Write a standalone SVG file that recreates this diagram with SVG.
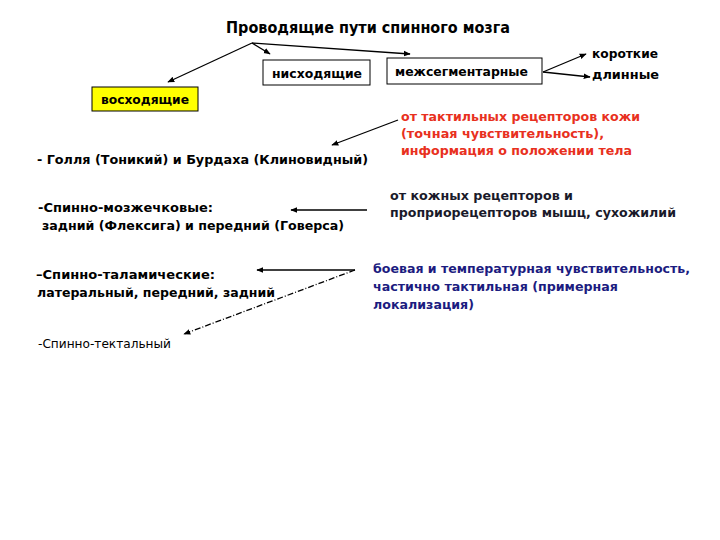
<svg xmlns="http://www.w3.org/2000/svg" width="720" height="540" viewBox="0 0 720 540">
<defs>
<marker id="ah" viewBox="0 0 10 10" refX="9" refY="5" markerWidth="7" markerHeight="7" orient="auto" markerUnits="userSpaceOnUse">
<path d="M0,1 L10,5 L0,9 Z" fill="#000"/>
</marker>
</defs>
<style>
text{font-family:"DejaVu Sans","Liberation Sans",sans-serif;font-size:13px;fill:#000}
.b{font-weight:bold}
.t{font-size:15px;font-weight:bold}
.red{fill:#e83020;font-weight:bold}
.blue{fill:#1c1c80;font-weight:bold}
.dk{fill:#1a1a2a;font-weight:bold}
.box{fill:#fff;stroke:#000;stroke-width:1}
.ybox{fill:#ffff00;stroke:#000;stroke-width:1}
.c{stroke:#000;stroke-width:1.3;fill:none;marker-end:url(#ah)}
.dd{stroke-dasharray:6,2,1,2}
</style>
<rect width="720" height="540" fill="#fff"/>
<g id="title"><text class="t" x="226" y="33" textLength="284" lengthAdjust="spacingAndGlyphs">Проводящие пути спинного мозга</text></g>
<g id="descending"><rect class="box" x="263" y="60" width="107" height="25"/><text class="b" x="272" y="78" textLength="90" lengthAdjust="spacingAndGlyphs">нисходящие</text></g>
<g id="intersegmental"><rect class="box" x="387" y="58" width="155" height="26"/><text class="b" x="395" y="76" textLength="133" lengthAdjust="spacingAndGlyphs">межсегментарные</text></g>
<g id="ascending"><rect class="ybox" x="92" y="87" width="106" height="24"/><text class="b" x="101" y="104" textLength="88" lengthAdjust="spacingAndGlyphs">восходящие</text></g>
<g id="short"><text class="b" x="592" y="58" textLength="66" lengthAdjust="spacingAndGlyphs">короткие</text></g>
<g id="long"><text class="b" x="592" y="79" textLength="67" lengthAdjust="spacingAndGlyphs">длинные</text></g>
<g id="goll"><text class="b" x="37" y="164" textLength="331" lengthAdjust="spacingAndGlyphs">- Голля (Тоникий) и Бурдаха (Клиновидный)</text></g>
<g id="tactile"><text class="red" x="401" y="121" textLength="239" lengthAdjust="spacingAndGlyphs">от тактильных рецепторов кожи</text><text class="red" x="401" y="138" textLength="203" lengthAdjust="spacingAndGlyphs">(точная чувствительность),</text><text class="red" x="401" y="155" textLength="231" lengthAdjust="spacingAndGlyphs">информация о положении тела</text></g>
<g id="spinocerebellar"><text class="b" x="38" y="212" textLength="175" lengthAdjust="spacingAndGlyphs">-Спинно-мозжечковые:</text><text class="b" x="42" y="230" textLength="302" lengthAdjust="spacingAndGlyphs">задний (Флексига) и передний (Говерса)</text></g>
<g id="proprio"><text class="dk" x="390" y="200" textLength="183" lengthAdjust="spacingAndGlyphs">от кожных рецепторов и</text><text class="dk" x="390" y="217" textLength="286" lengthAdjust="spacingAndGlyphs">проприорецепторов мышц, сухожилий</text></g>
<g id="spinothalamic"><text class="b" x="36" y="279" textLength="179" lengthAdjust="spacingAndGlyphs">–Спинно-таламические:</text><text class="b" x="37" y="297" textLength="238" lengthAdjust="spacingAndGlyphs">латеральный, передний, задний</text></g>
<g id="pain"><text class="blue" x="373" y="273" textLength="317" lengthAdjust="spacingAndGlyphs">боевая и температурная чувствительность,</text><text class="blue" x="373" y="291" textLength="245" lengthAdjust="spacingAndGlyphs">частично тактильная (примерная</text><text class="blue" x="373" y="309" textLength="101" lengthAdjust="spacingAndGlyphs">локализация)</text></g>
<g id="spinotectal"><text x="38" y="348" textLength="133" lengthAdjust="spacingAndGlyphs">-Спинно-тектальный</text></g>
<g id="connectors">
<line class="c" x1="252" y1="43" x2="168" y2="82"/>
<line class="c" x1="252" y1="43" x2="270" y2="54"/>
<line class="c" x1="252" y1="43" x2="410" y2="54"/>
<line class="c" x1="543" y1="72" x2="586" y2="54"/>
<line class="c" x1="543" y1="72" x2="590" y2="77"/>
<line class="c" x1="398" y1="120" x2="332" y2="145"/>
<line class="c" x1="367" y1="210" x2="291" y2="210"/>
<line class="c" x1="355" y1="270" x2="257" y2="270"/>
<line class="c dd" x1="355" y1="270" x2="184" y2="334"/>
</g>
</svg>
